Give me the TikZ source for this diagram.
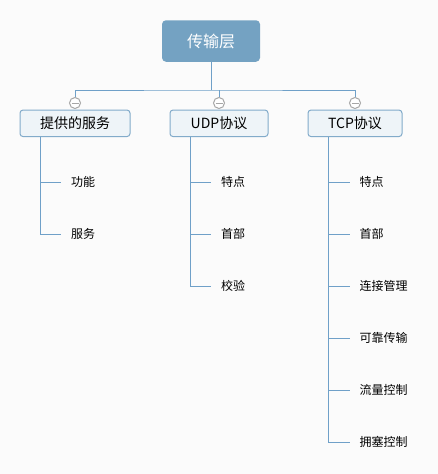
\documentclass[tikz,border=0pt]{standalone}
\usepackage{fontspec}
\setmainfont{Noto Sans CJK SC}
\definecolor{rootblue}{HTML}{74A2C2}
\definecolor{linkblue}{HTML}{6FA0C8}
\definecolor{boxfill}{HTML}{EEF4F8}
\definecolor{boxline}{HTML}{82ABCA}
\definecolor{paper}{HTML}{FBFBFB}
\tikzset{>=latex,
  topic/.style={fill=rootblue, rounded corners=4pt, text=white, minimum width=98pt,
    minimum height=41.5pt, font=\fontsize{16}{18}\selectfont},
  sub/.style={draw=boxline, fill=boxfill, line width=1pt, rounded corners=3pt,
    minimum height=26.5pt, inner sep=0pt, font=\fontsize{14}{16}\selectfont},
  leaf/.style={anchor=west, inner sep=0pt, font=\fontsize{12}{14}\selectfont},
  fold/.style={circle, draw=gray!70, fill=white, line width=1pt, minimum size=11pt, inner sep=0pt},
  link/.style={draw=linkblue, line width=1pt}}

\begin{document}
\begin{tikzpicture}[x=1pt,y=-1pt]
  \fill[paper] (0,0) rectangle (438,474);
  % main topic and the three branches
  \node[topic] (root) at (211,41) {传输层};
  \node[sub,minimum width=110pt] (svc) at (75,123.3)  {提供的服务};
  \node[sub,minimum width=98pt]  (udp) at (219,123.3) {UDP协议};
  \node[sub,minimum width=94pt]  (tcp) at (355,123.3) {TCP协议};
  \node[fold] (m1) at (75,103)  {};
  \node[fold] (m2) at (219,103) {};
  \node[fold] (m3) at (355,103) {};
  \foreach \m in {m1,m2,m3}
    \draw[gray!70,line width=1pt] ([xshift=-3.5pt]\m.center) -- ([xshift=3.5pt]\m.center);
  \coordinate (bus) at (211,90);
  \draw[link] (root.south) -- (bus);
  \draw[link] (m1.north) |- (bus) -| (m3.north);
  \draw[link] (m2.north) -- (m2 |- bus);
  % leaves
  \coordinate (t1) at ([xshift=-34.3pt]svc.south);
  \coordinate (t2) at ([xshift=-28.3pt]udp.south);
  \coordinate (t3) at ([xshift=-26.3pt]tcp.south);
  \foreach \txt [count=\i] in {功能,服务}
    \node[leaf] (s\i) at (71,182.3+52*\i-52) {\txt};
  \foreach \txt [count=\i] in {特点,首部,校验}
    \node[leaf] (u\i) at (221,182.3+52*\i-52) {\txt};
  \foreach \txt [count=\i] in {特点,首部,连接管理,可靠传输,流量控制,拥塞控制}
    \node[leaf] (c\i) at (359.5,182.3+52*\i-52) {\txt};
  \foreach \i in {1,2}   \draw[link,shorten >=10pt] (t1) |- (s\i.west);
  \foreach \i in {1,...,3} \draw[link,shorten >=10pt] (t2) |- (u\i.west);
  \foreach \i in {1,...,6} \draw[link,shorten >=10pt] (t3) |- (c\i.west);
\end{tikzpicture}
\end{document}
